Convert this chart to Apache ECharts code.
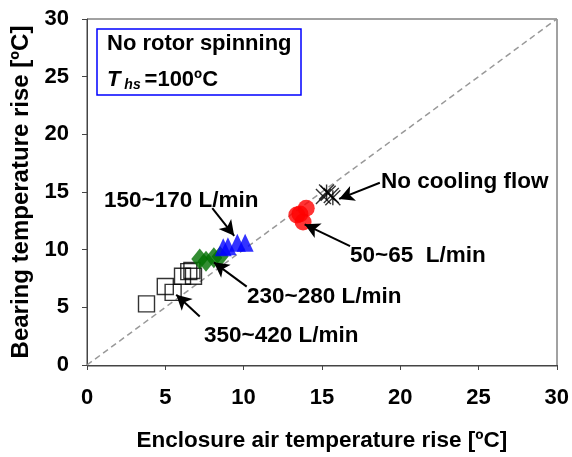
<!DOCTYPE html>
<html>
<head>
<meta charset="utf-8">
<script src="https://cdn.jsdelivr.net/npm/echarts@6/dist/echarts.min.js"></script>
<style>
  html, body { margin: 0; padding: 0; background: #fff; }
  #chart { width: 572px; height: 457px; }
</style>
</head>
<body>
<div id="chart"></div>
<script>
// Bearing temperature rise vs enclosure air temperature rise, no rotor spinning
const axisTicks = [0, 5, 10, 15, 20, 25, 30];

// [enclosure air rise, bearing rise] per cooling flow group
const flow350to420 = [[3.8, 5.3], [5.0, 6.8], [5.5, 6.3], [6.1, 7.7], [6.5, 8.1], [6.7, 8.2], [6.8, 7.7]];
const flow230to280 = [[7.2, 9.2], [7.6, 9.0], [8.1, 9.3], [8.5, 9.4]];
const flow150to170 = [[8.7, 10.2], [9.0, 10.3], [9.6, 10.6], [10.1, 10.6]];
const flow50to65 = [[13.4, 13.0], [14.0, 13.6], [13.8, 12.4], [13.6, 13.1]];
const noFlow = [[15.1, 14.6], [15.4, 14.9], [15.6, 14.7], [15.3, 15.0], [15.7, 14.5]];

// Identity reference line
const diagonal = [[0, 0], [30, 30]];

// Annotation arrows: [from, to] in data units
const arrowNoFlow = [[18.7, 15.8], [16.1, 14.4]];
const arrow50 = [[16.8, 10.3], [13.9, 12.2]];
const arrow150 = [[8.0, 13.6], [9.4, 11.2]];
const arrow230 = [[10.2, 6.8], [8.1, 8.9]];
const arrow350 = [[7.2, 4.2], [5.7, 6.1]];

const FONT = '"Liberation Sans", Arial, sans-serif';
const chart = echarts.init(document.getElementById('chart'));

const xMark = 'path://M0,0L10,10M10,0L0,10';
const starMark = 'path://M0,0L10,10M10,0L0,10M5,0L5,10';

function arrowLine(pts) {
  return [{ coord: pts[0] }, { coord: pts[1] }];
}

const option = {
  animation: false,
  grid: { left: 87, right: 15, top: 19, bottom: 91 },
  xAxis: {
    type: 'value', min: 0, max: 30, interval: 5,
    name: 'Enclosure air temperature rise [ºC]',
    nameLocation: 'middle', nameGap: 64,
    nameTextStyle: { fontFamily: FONT, fontWeight: 'bold', fontSize: 22.5, color: '#000' },
    axisLine: { show: true, onZero: false, lineStyle: { color: '#444', width: 1 } },
    axisTick: { show: true, inside: false, length: 5, lineStyle: { color: '#444' } },
    axisLabel: { fontFamily: FONT, fontWeight: 'bold', fontSize: 22, color: '#000', margin: 22,
      formatter: v => axisTicks.includes(v) ? String(v) : '' },
    splitLine: { show: false }
  },
  yAxis: {
    type: 'value', min: 0, max: 30, interval: 5,
    name: 'Bearing temperature rise [ºC]',
    nameLocation: 'middle', nameGap: 53,
    nameTextStyle: { fontFamily: FONT, fontWeight: 'bold', fontSize: 24, color: '#000' },
    axisLine: { show: true, onZero: false, lineStyle: { color: '#444', width: 1 } },
    axisTick: { show: true, inside: false, length: 5, lineStyle: { color: '#444' } },
    axisLabel: { fontFamily: FONT, fontWeight: 'bold', fontSize: 22, color: '#000', margin: 18,
      formatter: v => axisTicks.includes(v) ? String(v) : '' },
    splitLine: { show: false }
  },
  series: [
    {
      type: 'line', data: diagonal, symbol: 'none', silent: true,
      lineStyle: { color: '#999', width: 1.5, type: [6, 4] }, z: 1
    },
    {
      type: 'scatter', data: flow350to420, symbol: 'rect', symbolSize: 16,
      itemStyle: { color: 'rgba(255,255,255,0)', borderColor: '#000', borderWidth: 1.4 }, z: 2
    },
    {
      type: 'scatter', data: flow230to280, symbol: 'diamond', symbolSize: [17, 21],
      itemStyle: { color: '#007000' }, z: 3
    },
    {
      type: 'scatter', data: flow150to170, symbol: 'triangle', symbolSize: [17, 18],
      itemStyle: { color: '#0000ff' }, z: 3
    },
    {
      type: 'scatter', data: flow50to65, symbol: 'circle', symbolSize: 17,
      itemStyle: { color: '#ff0000' }, z: 3
    },
    {
      type: 'scatter', data: noFlow.slice(0, 3), symbol: xMark, symbolSize: 15,
      itemStyle: { color: 'rgba(0,0,0,0)', borderColor: '#000', borderWidth: 1.4 }, z: 3
    },
    {
      type: 'scatter', data: noFlow.slice(3), symbol: starMark, symbolSize: 15,
      itemStyle: { color: 'rgba(0,0,0,0)', borderColor: '#000', borderWidth: 1.4 }, z: 3
    },
    {
      type: 'line', data: [], silent: true,
      markLine: {
        silent: true, animation: false,
        symbol: ['none', 'arrow'], symbolSize: [12, 15],
        label: { show: false },
        lineStyle: { color: '#000', width: 2, type: 'solid' },
        data: [arrowLine(arrowNoFlow), arrowLine(arrow50), arrowLine(arrow150), arrowLine(arrow230), arrowLine(arrow350)]
      },
      z: 5
    }
  ],
  graphic: [
    // plot frame
    { type: 'rect', shape: { x: 87, y: 19, width: 470, height: 347 },
      style: { fill: 'none', stroke: '#444', lineWidth: 1 }, silent: true, z: 0 },
    // caption box
    { type: 'rect', shape: { x: 97, y: 29, width: 204, height: 66 },
      style: { fill: '#fff', stroke: '#0000ff', lineWidth: 1.5 }, z: 10 },
    { type: 'text', left: 107, top: 33, z: 11,
      style: { text: 'No rotor spinning', font: 'bold 22px ' + FONT, fill: '#000' } },
    { type: 'text', left: 107, top: 69, z: 11,
      style: {
        text: '{i|T}{s| hs }{b|=100ºC}',
        rich: {
          i: { font: 'italic bold 22px ' + FONT, fill: '#000' },
          s: { font: 'italic bold 14px ' + FONT, fill: '#000', padding: [10, 0, 0, 0] },
          b: { font: 'bold 22px ' + FONT, fill: '#000' }
        }
      } },
    { type: 'text', left: 381, top: 170, z: 11,
      style: { text: 'No cooling flow', font: 'bold 22.5px ' + FONT, fill: '#000' } },
    { type: 'text', left: 350, top: 244, z: 11,
      style: { text: '50~65  L/min', font: 'bold 22.5px ' + FONT, fill: '#000' } },
    { type: 'text', left: 104, top: 189, z: 11,
      style: { text: '150~170 L/min', font: 'bold 22.5px ' + FONT, fill: '#000' } },
    { type: 'text', left: 247, top: 285, z: 11,
      style: { text: '230~280 L/min', font: 'bold 22.5px ' + FONT, fill: '#000' } },
    { type: 'text', left: 204, top: 324, z: 11,
      style: { text: '350~420 L/min', font: 'bold 22.5px ' + FONT, fill: '#000' } }
  ]
};

chart.setOption(option);
</script>
</body>
</html>
